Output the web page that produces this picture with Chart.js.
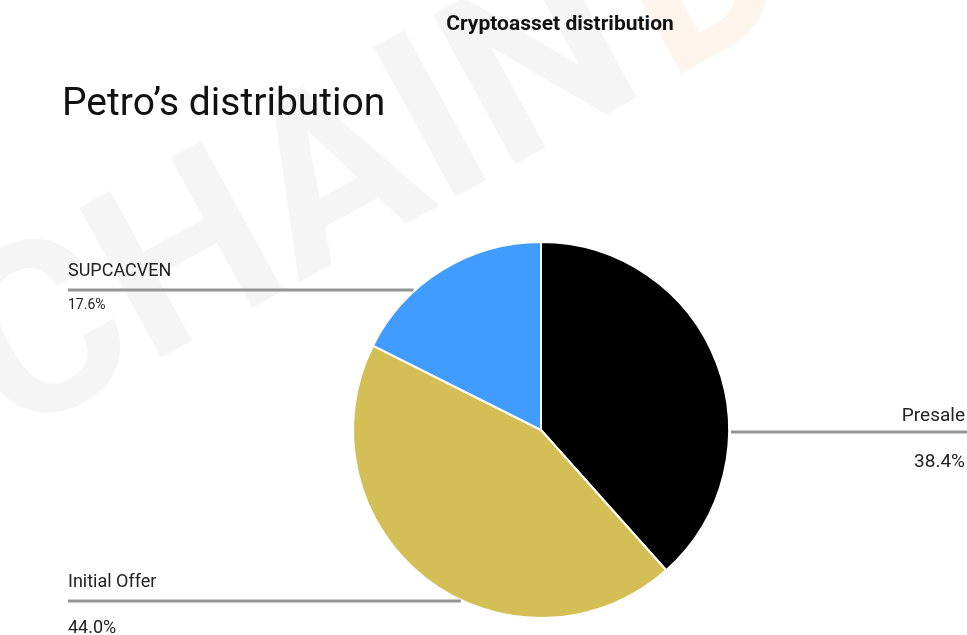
<!DOCTYPE html>
<html>
<head>
<meta charset="utf-8">
<script src="https://cdn.jsdelivr.net/npm/chart.js@4/dist/chart.umd.min.js"></script>
<style>
  html, body { margin: 0; padding: 0; background: #fff; }
  #wrap { width: 967px; height: 635px; position: relative; }
</style>
</head>
<body>
<div id="wrap"><canvas id="myChart" width="967" height="635"></canvas></div>
<script>
var labels = ['Presale', 'Initial Offer', 'SUPCACVEN'];
var values = [38.4, 44.0, 17.6];
var colors = ['#000000', '#D4BF57', '#409CFF'];

var mainTitle = 'Cryptoasset distribution';
var subTitle = 'Petro\u2019s distribution';

// where each callout sits (label y, and which side)
var callouts = [
    { y: 432, side: 'right' },
    { y: 601, side: 'left' },
    { y: 290, side: 'left' }
];

var calloutPlugin = {
    id: 'callouts',
    beforeDraw: function (chart) {
        var ctx = chart.ctx;
        ctx.save();
        // faint watermark
        ctx.translate(10, 440);
        ctx.rotate(-0.5);
        ctx.font = 'bold 240px Roboto';
        ctx.fillStyle = 'rgba(120,120,120,0.07)';
        ctx.fillText('CHAIN', 0, 0);
        var w = ctx.measureText('CHAIN').width;
        ctx.fillStyle = 'rgba(240,140,60,0.09)';
        ctx.fillText('D', w + 20, 0);
        ctx.restore();
    },
    afterDraw: function (chart) {
        var ctx = chart.ctx;
        var arc = chart.getDatasetMeta(0).data[0];
        var cx = arc.x, cy = arc.y, r = arc.outerRadius;
        ctx.save();

        ctx.fillStyle = '#111';
        ctx.textBaseline = 'alphabetic';
        ctx.textAlign = 'center';
        ctx.font = 'bold 21px Roboto';
        ctx.fillText(mainTitle, 560, 30);

        ctx.textAlign = 'left';
        ctx.font = '39px Roboto';
        ctx.fillText(subTitle, 62, 115);

        for (var i = 0; i < labels.length; i++) {
            var c = callouts[i];
            var dy = c.y - cy;
            var dx = Math.sqrt(Math.max(r * r - dy * dy, 0));
            ctx.strokeStyle = '#959595';
            ctx.lineWidth = 3;
            ctx.beginPath();
            if (c.side === 'right') {
                ctx.moveTo(cx + dx + 2, c.y);
                ctx.lineTo(967, c.y);
            } else {
                ctx.moveTo(68, c.y);
                ctx.lineTo(cx - dx - 2, c.y);
            }
            ctx.stroke();

            var pct = values[i].toFixed(1) + '%';
            ctx.fillStyle = '#222';
            if (c.side === 'right') {
                ctx.textAlign = 'right';
                ctx.font = '19px Roboto';
                ctx.fillText(labels[i], 965, c.y - 11);
                ctx.fillText(pct, 965, c.y + 35);
            } else {
                ctx.textAlign = 'left';
                ctx.font = '18px Roboto';
                ctx.fillText(labels[i], 68, c.y - 14);
                ctx.font = (i === 2 ? '14px' : '18px') + ' Roboto';
                ctx.fillText(pct, 68, c.y + (i === 2 ? 19 : 32));
            }
        }
        ctx.restore();
    }
};

var ctx = document.getElementById('myChart').getContext('2d');
window.myChart = new Chart(ctx, {
    type: 'pie',
    data: {
        labels: labels,
        datasets: [{
            data: values,
            backgroundColor: colors,
            borderColor: '#ffffff',
            borderWidth: 2
        }]
    },
    options: {
        responsive: false,
        animation: false,
        layout: { padding: { left: 352, right: 237, top: 241, bottom: 16 } },
        plugins: {
            legend: { display: false },
            tooltip: { enabled: false }
        }
    },
    plugins: [calloutPlugin]
});
</script>
</body>
</html>
